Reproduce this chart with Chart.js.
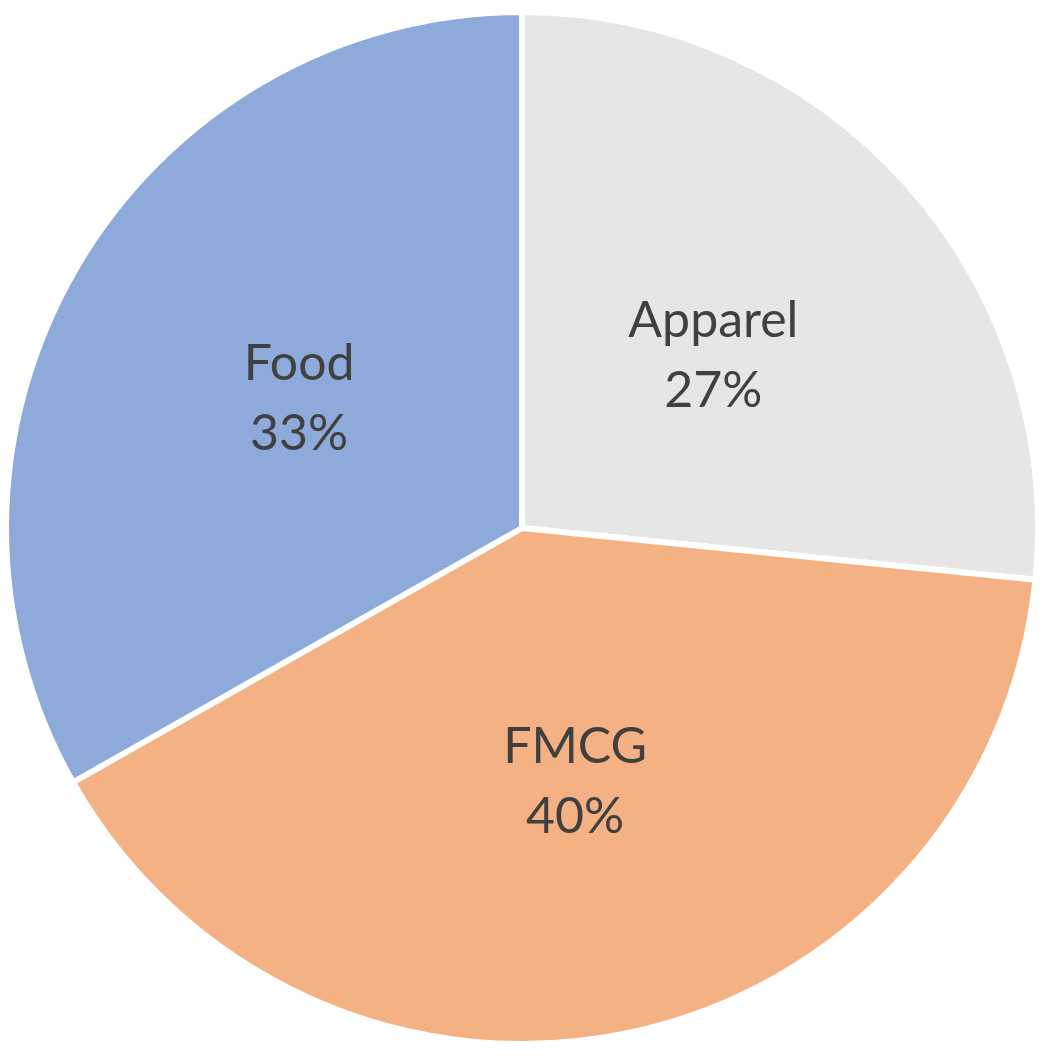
<!DOCTYPE html>
<html>
<head>
<meta charset="utf-8">
<script src="https://cdn.jsdelivr.net/npm/chart.js@4/dist/chart.umd.min.js"></script>
<style>
  html, body { margin: 0; padding: 0; background: #ffffff; }
  #wrap { width: 1044px; height: 1056px; position: relative; }
</style>
</head>
<body>
<div id="wrap"><canvas id="c"></canvas></div>
<script>
const categories = ["Apparel", "FMCG", "Food"];
const shares = [26.6, 40.2, 33.2];
const colors = ["#e6e6e6", "#f4b183", "#8eaadb"];

const labelPlugin = {
  id: "sliceLabels",
  afterDatasetsDraw(chart) {
    const ctx = chart.ctx;
    const meta = chart.getDatasetMeta(0);
    const total = shares.reduce((a, b) => a + b, 0);
    ctx.save();
    ctx.fillStyle = "#404040";
    ctx.font = "50px Lato, 'Open Sans', sans-serif";
    ctx.textAlign = "center";
    ctx.textBaseline = "middle";
    meta.data.forEach((arc, i) => {
      const p = arc.getProps(["x", "y", "startAngle", "endAngle", "outerRadius"], true);
      const mid = (p.startAngle + p.endAngle) / 2;
      const r = p.outerRadius * 0.5;
      const cx = p.x + Math.cos(mid) * r;
      const cy = p.y + Math.sin(mid) * r;
      ctx.fillText(categories[i], cx, cy - 34);
      ctx.fillText(Math.round(shares[i] / total * 100) + "%", cx, cy + 36);
    });
    ctx.restore();
  }
};

new Chart(document.getElementById("c"), {
  type: "pie",
  data: {
    labels: categories,
    datasets: [{
      data: shares,
      backgroundColor: colors,
      borderColor: "#ffffff",
      borderWidth: 6
    }]
  },
  options: {
    responsive: true,
    maintainAspectRatio: false,
    animation: false,
    layout: { padding: 3 },
    plugins: { legend: { display: false }, tooltip: { enabled: false } }
  },
  plugins: [labelPlugin]
});
</script>
</body>
</html>
